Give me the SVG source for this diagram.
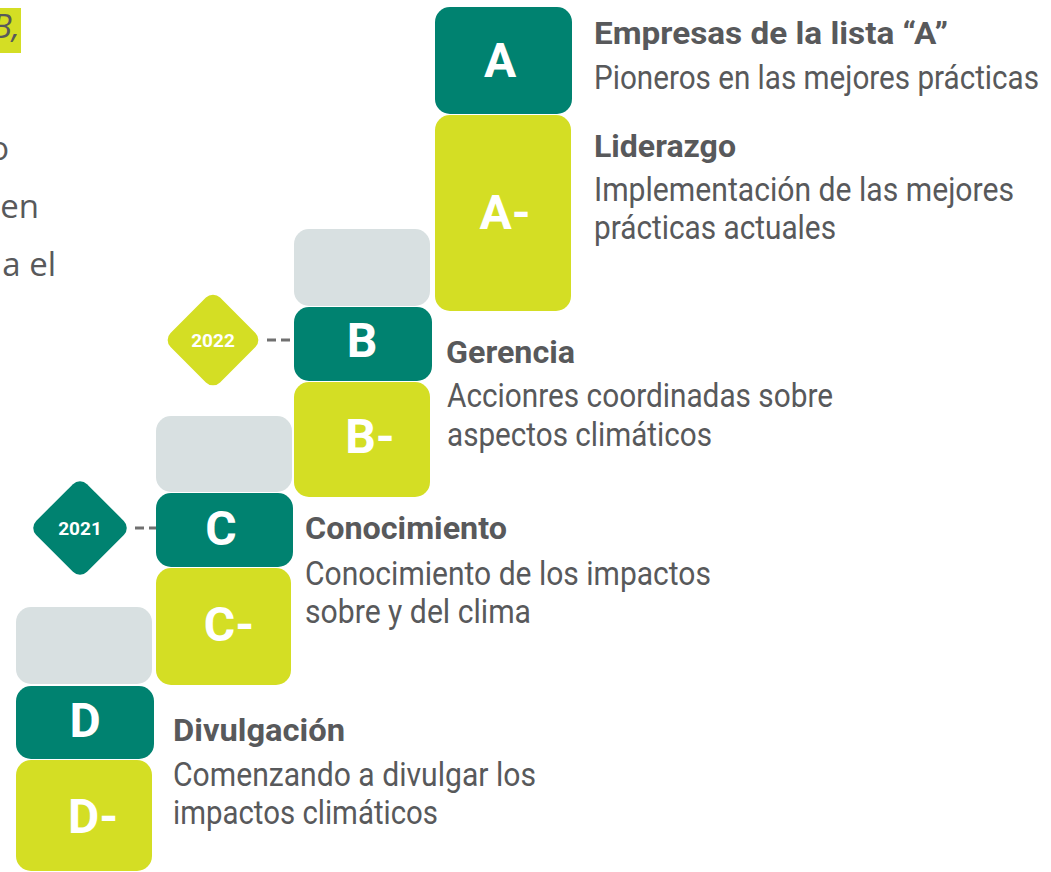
<svg xmlns="http://www.w3.org/2000/svg" width="1051" height="872" viewBox="0 0 1051 872">
<style>
.teal{fill:#008270}
.lime{fill:#D4DE24}
.gray{fill:#D8E0E1}
.lbl{font-family:Roboto,"Liberation Sans",sans-serif;font-weight:700;font-size:48px;fill:#fff;text-anchor:middle}
.yr{font-family:Roboto,"Liberation Sans",sans-serif;font-weight:700;font-size:19px;fill:#fff;text-anchor:middle}
.ttl{font-family:Roboto,"Liberation Sans",sans-serif;font-weight:700;font-size:32px;fill:#58595B}
.dsc{font-family:Roboto,"Liberation Sans",sans-serif;font-weight:400;font-size:33px;fill:#58595B}
.frag{font-family:"Open Sans","Liberation Sans",sans-serif;font-size:33px;fill:#58595B;text-anchor:end}
.dash{stroke:#707070;stroke-width:3;stroke-dasharray:9 5;fill:none}
</style>
<rect width="1051" height="872" fill="#fff"/>
<g id="fragments">
<rect x="0" y="8" width="21" height="45" class="lime"/>
<text x="20" y="38" class="frag" font-style="italic">B,</text>
<text x="9" y="160" class="frag">o</text>
<text x="39" y="218" class="frag">en</text>
<text x="56" y="276" class="frag">a el</text>
</g>
<g id="connectors">
<line x1="267" y1="340" x2="290" y2="340" class="dash"/>
<line x1="135" y1="528" x2="156" y2="528" class="dash"/>
</g>
<g id="year-2022">
<rect x="178" y="305" width="70" height="70" rx="10" class="lime" transform="rotate(45 213 340)"/>
<text x="213" y="347" class="yr">2022</text>
</g>
<g id="year-2021">
<rect x="44" y="492" width="72" height="72" rx="10" class="teal" transform="rotate(45 80 528)"/>
<text x="80" y="535" class="yr">2021</text>
</g>
<g id="level-A">
<rect x="435" y="7" width="137" height="107" rx="15" class="teal"/>
<text x="500" y="77" class="lbl">A</text>
<text x="594" y="44" class="ttl" textLength="354" lengthAdjust="spacingAndGlyphs">Empresas de la lista “A”</text>
<text x="594" y="89" class="dsc" textLength="445" lengthAdjust="spacingAndGlyphs">Pioneros en las mejores prácticas</text>
</g>
<g id="level-A-minus">
<rect x="435" y="115" width="136" height="196" rx="15" class="lime"/>
<text x="505" y="229" class="lbl">A-</text>
<text x="594" y="157" class="ttl" textLength="142" lengthAdjust="spacingAndGlyphs">Liderazgo</text>
<text x="594" y="201" class="dsc" textLength="420" lengthAdjust="spacingAndGlyphs">Implementación de las mejores</text>
<text x="594" y="239" class="dsc" textLength="242" lengthAdjust="spacingAndGlyphs">prácticas actuales</text>
</g>
<g id="level-B">
<rect x="294" y="229" width="136" height="77" rx="15" class="gray"/>
<rect x="294" y="307" width="138" height="74" rx="15" class="teal"/>
<text x="362" y="357" class="lbl">B</text>
<text x="446" y="363" class="ttl" textLength="129" lengthAdjust="spacingAndGlyphs">Gerencia</text>
</g>
<g id="level-B-minus">
<rect x="294" y="382" width="136" height="115" rx="15" class="lime"/>
<text x="370" y="453" class="lbl">B-</text>
<text x="447" y="407" class="dsc" textLength="386" lengthAdjust="spacingAndGlyphs">Accionres coordinadas sobre</text>
<text x="447" y="446" class="dsc" textLength="265" lengthAdjust="spacingAndGlyphs">aspectos climáticos</text>
</g>
<g id="level-C">
<rect x="156" y="416" width="136" height="76" rx="15" class="gray"/>
<rect x="156" y="493" width="137" height="74" rx="15" class="teal"/>
<text x="221" y="545" class="lbl">C</text>
<text x="305" y="539" class="ttl" textLength="202" lengthAdjust="spacingAndGlyphs">Conocimiento</text>
</g>
<g id="level-C-minus">
<rect x="156" y="568" width="135" height="117" rx="15" class="lime"/>
<text x="229" y="641" class="lbl">C-</text>
<text x="305" y="585" class="dsc" textLength="406" lengthAdjust="spacingAndGlyphs">Conocimiento de los impactos</text>
<text x="305" y="623" class="dsc" textLength="226" lengthAdjust="spacingAndGlyphs">sobre y del clima</text>
</g>
<g id="level-D">
<rect x="16" y="607" width="136" height="77" rx="15" class="gray"/>
<rect x="16" y="686" width="138" height="73" rx="15" class="teal"/>
<text x="85" y="737" class="lbl">D</text>
<text x="173" y="741" class="ttl" textLength="172" lengthAdjust="spacingAndGlyphs">Divulgación</text>
</g>
<g id="level-D-minus">
<rect x="16" y="760" width="136" height="111" rx="15" class="lime"/>
<text x="93" y="833" class="lbl">D-</text>
<text x="173" y="786" class="dsc" textLength="363" lengthAdjust="spacingAndGlyphs">Comenzando a divulgar los</text>
<text x="173" y="824" class="dsc" textLength="265" lengthAdjust="spacingAndGlyphs">impactos climáticos</text>
</g>
</svg>
